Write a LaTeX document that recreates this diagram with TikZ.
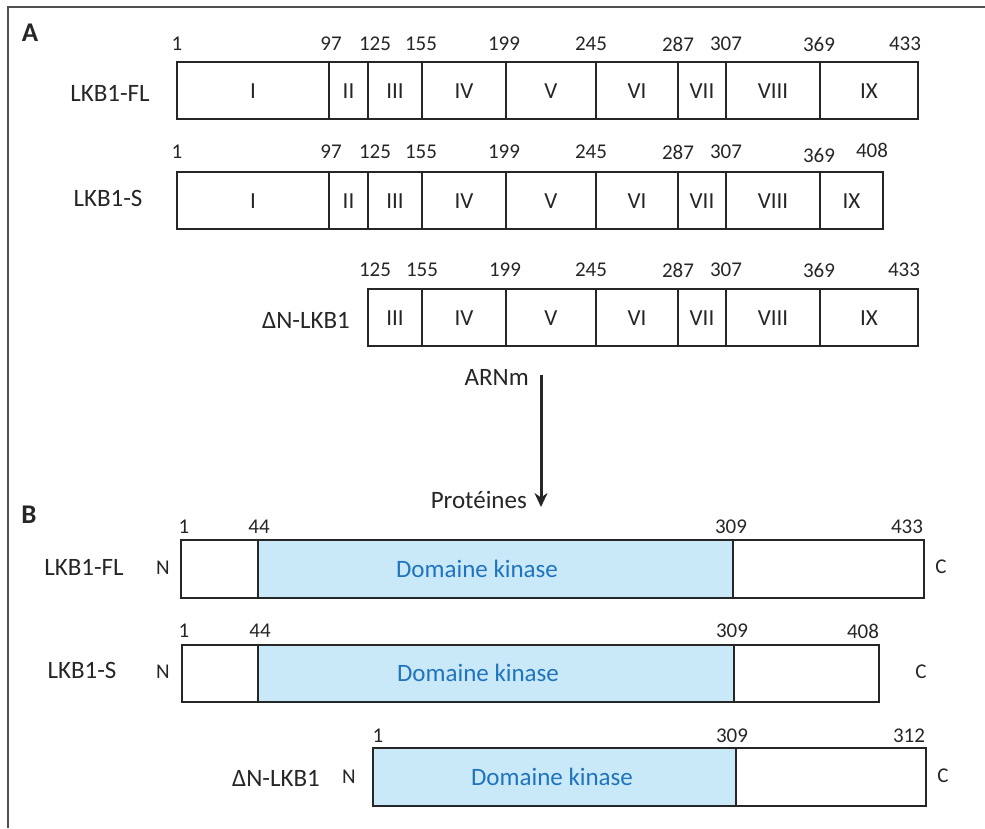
\documentclass[tikz,border=0pt]{standalone}
\usepackage{fontspec}
\setmainfont{Carlito}
\usetikzlibrary{arrows.meta}
\definecolor{ink}{HTML}{262626}
\definecolor{kinfill}{HTML}{C9E8F8}
\definecolor{kintext}{HTML}{1F74BD}

\begin{document}
\begin{tikzpicture}[
  x=1pt, y=-1pt,
  seg/.style={draw=ink, line width=2.1pt},
  kin/.style={seg, fill=kinfill},
  num/.style={font=\fontsize{21}{25}\selectfont, text=ink, inner sep=0pt},
  exon/.style={font=\fontsize{23}{27}\selectfont, text=ink, inner sep=0pt},
  isoname/.style={font=\fontsize{25}{30}\selectfont, text=ink, inner sep=0pt},
  term/.style={font=\fontsize{21}{25}\selectfont, text=ink, inner sep=0pt},
  panel/.style={font=\fontsize{27}{32}\selectfont\bfseries, text=ink, inner sep=0pt},
  kinlbl/.style={font=\fontsize{25}{30}\selectfont, text=kintext, inner sep=0pt}
]
  \useasboundingbox (0,0) rectangle (985,828);
  \draw[ink!80, line width=1.8pt] (985,7) -- (8,7) -- (8,828);

  % A: exons of the three transcripts
  \node[panel] (pa) at (30,33) {A};

  \node[isoname] (fl) at (110,93) {LKB1-FL};
  \foreach \a/\b/\e in {177/329/I, 329/368/II, 368/422/III, 422/506/IV,
                        506/596/V, 596/678/VI, 678/726/VII, 726/820/VIII, 820/918/IX}
  {
    \draw[seg] (\a,62) rectangle (\b,119);
    \node[exon] (fl-\e) at ({(\a+\b)/2},91) {\e};
  }
  \foreach \x/\n in {177/1, 331/97, 375/125, 421/155, 504/199, 591/245,
                     678/287, 726/307, 819/369, 905/433}
    \node[num] (fl-n\n) at (\x,44) {\n};

  \node[isoname] (s) at (108,198) {LKB1-S};
  \foreach \a/\b/\e in {177/329/I, 329/368/II, 368/422/III, 422/506/IV,
                        506/596/V, 596/678/VI, 678/726/VII, 726/820/VIII, 820/883/IX}
  {
    \draw[seg] (\a,172) rectangle (\b,229);
    \node[exon] (s-\e) at ({(\a+\b)/2},201) {\e};
  }
  \foreach \x/\y/\n in {177/152/1, 331/152/97, 375/152/125, 421/152/155, 504/152/199,
                        591/152/245, 678/152/287, 726/152/307, 819/155/369, 872/150/408}
    \node[num] (s-n\n) at (\x,\y) {\n};

  \node[isoname] (dn) at (306,320) {ΔN-LKB1};
  \foreach \a/\b/\e in {368/422/III, 422/506/IV, 506/596/V, 596/678/VI,
                        678/726/VII, 726/820/VIII, 820/918/IX}
  {
    \draw[seg] (\a,289) rectangle (\b,346);
    \node[exon] (dn-\e) at ({(\a+\b)/2},318) {\e};
  }
  \foreach \x/\n in {375/125, 422/155, 505/199, 591/245, 678/287,
                     726/307, 819/369, 904/433}
    \node[num] (dn-n\n) at (\x,270) {\n};

  % mRNA -> protein
  \node[isoname, anchor=east] (arn) at (529,377) {ARNm};
  \node[isoname, anchor=east] (prot) at (527,500) {Protéines};
  \coordinate (arrtop) at (541,375);
  \coordinate (arrtip) at (541,507);
  \draw[ink, line width=3pt, -{Stealth[length=14pt, width=13pt]}] (arrtop) -- (arrtip);

  % B: protein isoforms
  \node[panel] (pb) at (29,515) {B};

  \node[isoname] (pfl) at (84,567) {LKB1-FL};
  \node[term] (pfl-n) at (163,568) {N};
  \node[term] (pfl-c) at (941,567) {C};
  \draw[kin] (258,540) rectangle (733,598);
  \draw[seg] (181,540) rectangle (258,598);
  \draw[seg] (733,540) rectangle (924,598);
  \node[kinlbl] (pfl-k) at (477,569) {Domaine kinase};
  \foreach \x/\n in {184/1, 259/44, 731/309, 907/433}
    \node[num] (pfl-n\n) at (\x,527) {\n};

  \node[isoname] (ps) at (82,670) {LKB1-S};
  \node[term] (ps-n) at (163,672) {N};
  \node[term] (ps-c) at (921,672) {C};
  \draw[kin] (258,645) rectangle (734,702);
  \draw[seg] (182,645) rectangle (258,702);
  \draw[seg] (734,645) rectangle (879,702);
  \node[kinlbl] (ps-k) at (478,673) {Domaine kinase};
  \foreach \x/\n in {184/1, 260/44, 732/309, 863/408}
    \node[num] (ps-n\n) at (\x,631) {\n};

  \node[isoname] (pdn) at (276,778) {ΔN-LKB1};
  \node[term] (pdn-n) at (349,777) {N};
  \node[term] (pdn-c) at (943,776) {C};
  \draw[kin] (373,748) rectangle (736,806);
  \draw[seg] (736,748) rectangle (926,806);
  \node[kinlbl] (pdn-k) at (552,777) {Domaine kinase};
  \foreach \x/\n in {378/1, 732/309, 909/312}
    \node[num] (pdn-n\n) at (\x,736) {\n};
\end{tikzpicture}
\end{document}
